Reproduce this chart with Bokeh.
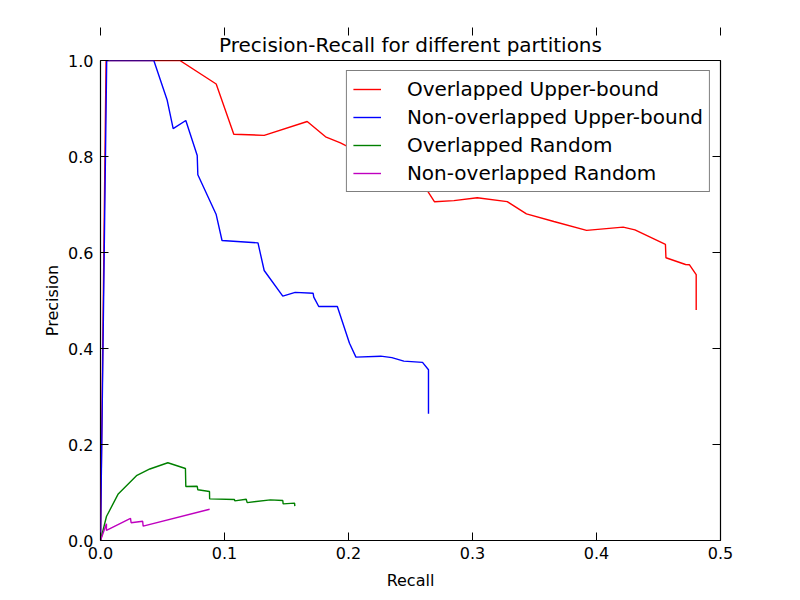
from bokeh.plotting import figure
from bokeh.models import (Range1d, FixedTicker, LinearAxis, NumeralTickFormatter, Legend,
                          LegendItem, Title, CustomJSTickFormatter)
from bokeh.embed import file_html
from bokeh.resources import INLINE

# ---- data ----
x_ticks = [0.0, 0.1, 0.2, 0.3, 0.4, 0.5]
y_ticks = [0.0, 0.2, 0.4, 0.6, 0.8, 1.0]

series_names = ["Overlapped Upper-bound", "Non-overlapped Upper-bound",
                "Overlapped Random", "Non-overlapped Random"]

ov_ub_recall = [0.0, 0.0045, 0.064, 0.0933, 0.1075, 0.132, 0.1667, 0.1815, 0.1935,
                0.215, 0.24, 0.262, 0.2694, 0.285, 0.3038, 0.328, 0.3435, 0.3656,
                0.392, 0.4215, 0.431, 0.4556, 0.456, 0.4718, 0.475, 0.4804, 0.4804]
ov_ub_prec = [0.0, 1.0, 1.0, 0.951, 0.8465, 0.844, 0.873, 0.841, 0.8285,
              0.80, 0.77, 0.735, 0.7056, 0.708, 0.714, 0.706, 0.6805, 0.6646,
              0.646, 0.6528, 0.647, 0.6167, 0.589, 0.575, 0.5744, 0.554, 0.48]

nov_ub_recall = [0.0, 0.0050, 0.043, 0.0538, 0.0586, 0.0688, 0.078, 0.0785, 0.0933,
                 0.098, 0.127, 0.132, 0.147, 0.157, 0.1715, 0.172, 0.176, 0.191,
                 0.2008, 0.206, 0.226, 0.235, 0.2446, 0.2597, 0.2645, 0.2645]
nov_ub_prec = [0.0, 1.0, 1.0, 0.917, 0.858, 0.875, 0.802, 0.762, 0.679,
               0.625, 0.620, 0.5625, 0.509, 0.517, 0.515, 0.507, 0.4875, 0.4875,
               0.411, 0.382, 0.384, 0.381, 0.3736, 0.371, 0.3556, 0.264]

ov_rnd_recall = [0.0, 0.0048, 0.0143, 0.029, 0.0398, 0.0543, 0.0685, 0.0688, 0.078,
                 0.0785, 0.0879, 0.088, 0.108, 0.1083, 0.1175, 0.1183, 0.137, 0.147,
                 0.1473, 0.1565, 0.1567]
ov_rnd_prec = [0.0, 0.05, 0.097, 0.135, 0.149, 0.162, 0.15, 0.1125, 0.113,
               0.1056, 0.102, 0.0868, 0.0854, 0.0826, 0.086, 0.079, 0.0847, 0.0833,
               0.0764, 0.0778, 0.0715]

nov_rnd_recall = [0.0, 0.0048, 0.0048, 0.0242, 0.0247, 0.034, 0.0344, 0.088]
nov_rnd_prec = [0.0, 0.035, 0.021, 0.046, 0.037, 0.04, 0.03, 0.065]

colors = ["#ff0000", "#0000ff", "#008000", "#bf00bf"]

FONT = "DejaVu Sans"

p = figure(width=792, height=592, frame_width=620, frame_height=480,
           output_backend="svg", toolbar_location=None,
           x_range=Range1d(0, 0.5), y_range=Range1d(0, 1.0),
           min_border_left=100, min_border_right=72, min_border_top=60, min_border_bottom=52,
           x_axis_label="Recall", y_axis_label="Precision")
p.title = None
p.add_layout(Title(text="Precision-Recall for different partitions", align="center",
                   text_font=FONT, text_font_size="20px", text_font_style="normal",
                   text_color="black", standoff=7), "above")

p.grid.visible = False
p.outline_line_color = "black"
p.outline_line_width = 1.2
p.background_fill_color = "white"
p.border_fill_color = "white"

for ax in p.xaxis:
    ax.ticker = FixedTicker(ticks=x_ticks)
for ax in p.yaxis:
    ax.ticker = FixedTicker(ticks=y_ticks)

for ax in list(p.xaxis) + list(p.yaxis):
    ax.formatter = NumeralTickFormatter(format="0.0")
    ax.axis_line_color = None
    ax.major_tick_in = 8
    ax.major_tick_out = 0
    ax.major_tick_line_color = "black"
    ax.minor_tick_line_color = None
    ax.major_label_text_font = FONT
    ax.major_label_text_font_size = "16px"
    ax.major_label_text_color = "black"
    ax.axis_label_text_font = FONT
    ax.axis_label_text_font_size = "16px"
    ax.axis_label_text_font_style = "normal"
    ax.axis_label_text_color = "black"

p.xaxis.major_label_standoff = 6
p.xaxis.axis_label_standoff = 9
p.yaxis.major_label_standoff = 7
p.yaxis.axis_label_standoff = 3

blank = CustomJSTickFormatter(code="return '';")
top_ax = LinearAxis(ticker=FixedTicker(ticks=x_ticks), axis_line_color=None,
                    major_tick_in=8, major_tick_out=0, minor_tick_line_color=None,
                    formatter=blank)
right_ax = LinearAxis(ticker=FixedTicker(ticks=y_ticks), axis_line_color=None,
                      major_tick_in=8, major_tick_out=0, minor_tick_line_color=None,
                      formatter=blank)
p.add_layout(top_ax, "above")
p.add_layout(right_ax, "right")

data = [(ov_ub_recall, ov_ub_prec), (nov_ub_recall, nov_ub_prec),
        (ov_rnd_recall, ov_rnd_prec), (nov_rnd_recall, nov_rnd_prec)]
items = []
for (xs, ys), c, name in zip(data, colors, series_names):
    r = p.line(xs, ys, line_color=c, line_width=1.4)
    items.append(LegendItem(label=name, renderers=[r]))

legend = Legend(items=items, location="top_right", margin=10, padding=6,
                spacing=4, glyph_width=28, glyph_height=20, label_height=20,
                label_standoff=26, label_text_font=FONT, label_text_font_size="20px",
                label_text_color="black", border_line_color="black", border_line_width=1,
                background_fill_color="white", background_fill_alpha=1.0)
p.add_layout(legend)

open("out.html", "w").write(file_html(p, INLINE))
